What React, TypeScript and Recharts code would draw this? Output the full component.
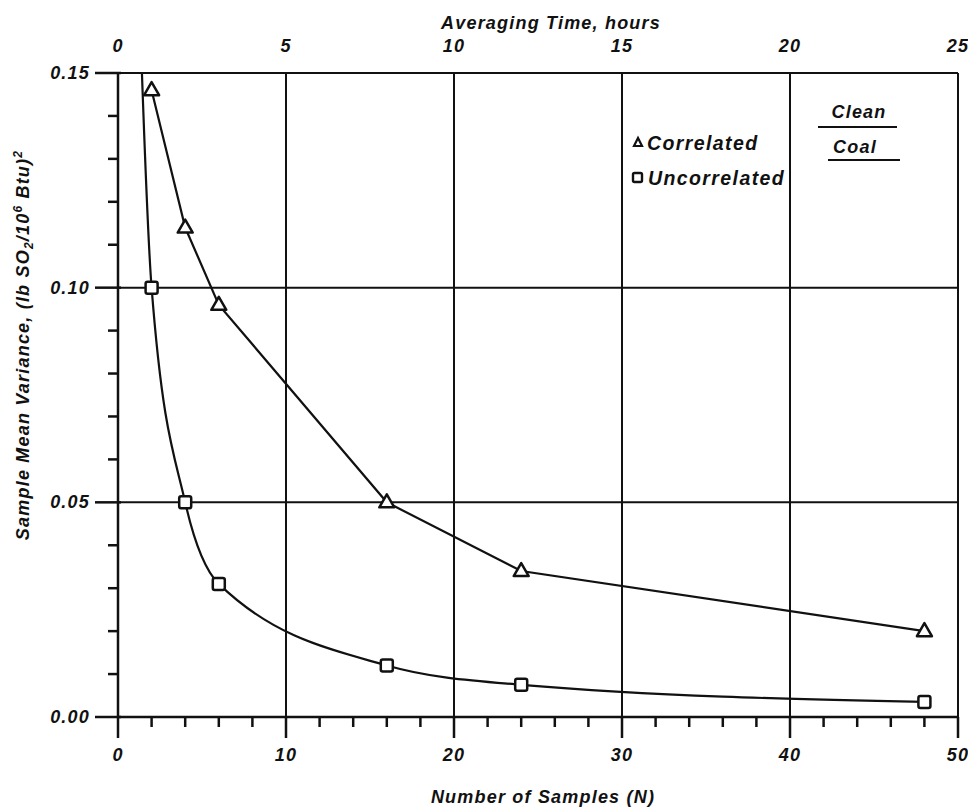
import React from "react";
import { LineChart, Line, XAxis, YAxis, ReferenceLine, Legend } from "recharts";

const INK = "#111";
const FONT = '"Liberation Sans", Arial, Helvetica, sans-serif';

// values
const SAMPLES_CORRELATED = [2, 4, 6, 16, 24, 48];
const VARIANCE_CORRELATED = [0.146, 0.114, 0.096, 0.05, 0.034, 0.02];
// first point (N = 1) lies above the frame, the curve leaves through the top
const SAMPLES_UNCORRELATED = [1, 2, 4, 6, 16, 24, 48];
const VARIANCE_UNCORRELATED = [0.2, 0.1, 0.05, 0.031, 0.012, 0.0075, 0.0035];

const N_TICKS = [0, 2, 4, 6, 8, 10, 12, 14, 16, 18, 20, 22, 24, 26, 28, 30, 32, 34, 36, 38, 40, 42, 44, 46, 48, 50];
const HOUR_TICKS = [0, 5, 10, 15, 20, 25];
const VARIANCE_TICKS = [0, 0.01, 0.02, 0.03, 0.04, 0.05, 0.06, 0.07, 0.08, 0.09, 0.1, 0.11, 0.12, 0.13, 0.14, 0.15];
const N_GRID = [10, 20, 30, 40, 50];
const VARIANCE_GRID = [0.05, 0.1, 0.15];

const SERIES = [
  { key: "correlated", name: "Correlated", n: SAMPLES_CORRELATED, v: VARIANCE_CORRELATED, marker: "triangle", curve: "linear" },
  { key: "uncorrelated", name: "Uncorrelated", n: SAMPLES_UNCORRELATED, v: VARIANCE_UNCORRELATED, marker: "square", curve: "monotone" },
];

const TEXT: React.CSSProperties = {
  fontFamily: FONT,
  fontWeight: 700,
  fontStyle: "italic",
  fontSize: 18,
  letterSpacing: 1.2,
  fill: INK,
};
const LEGEND_TEXT: React.CSSProperties = { ...TEXT, fontSize: 19.5, letterSpacing: 1.4 };

function BottomTick({ x, y, payload }: any) {
  const major = payload.value % 10 === 0;
  return (
    <g>
      <line x1={x} x2={x} y1={y} y2={y + (major ? 21 : 10)} stroke={INK} strokeWidth={2.5} />
      {major && (
        <text x={x} y={y + 44} textAnchor="middle" style={TEXT}>
          {payload.value}
        </text>
      )}
    </g>
  );
}

function TopTick({ x, y, payload }: any) {
  return (
    <text x={x} y={y - 21} textAnchor="middle" style={TEXT}>
      {payload.value}
    </text>
  );
}

function LeftTick({ x, y, payload }: any) {
  const major = Math.round(payload.value * 100) % 5 === 0;
  return (
    <g>
      <line x1={x - (major ? 23 : 10)} x2={x + (major ? 3 : 0)} y1={y} y2={y} stroke={INK} strokeWidth={2.5} />
      {major && (
        <text x={x - 28} y={y + 6} textAnchor="end" style={TEXT}>
          {payload.value.toFixed(2)}
        </text>
      )}
    </g>
  );
}

function triangleDot(p: any) {
  const { cx, cy, value, index } = p;
  if (value == null || value > 0.15) return <g key={index} />;
  return (
    <polygon
      key={index}
      points={`${cx},${cy - 8} ${cx - 7.5},${cy + 5} ${cx + 7.5},${cy + 5}`}
      fill="#fff"
      stroke={INK}
      strokeWidth={2.5}
      strokeLinejoin="round"
    />
  );
}

function squareDot(p: any) {
  const { cx, cy, value, index } = p;
  if (value == null || value > 0.15) return <g key={index} />;
  return (
    <rect key={index} x={cx - 6} y={cy - 6} width={12} height={12} rx={2} fill="#fff" stroke={INK} strokeWidth={2.5} />
  );
}

function LegendBox() {
  return (
    <svg width={330} height={110} style={{ display: "block" }}>
      <polygon points="38,43 34,51 42,51" fill="none" stroke={INK} strokeWidth={2.2} />
      <text x={47} y={55} style={LEGEND_TEXT}>
        {SERIES[0].name}
      </text>
      <rect x={33} y={78} width={9} height={9} rx={1.5} fill="none" stroke={INK} strokeWidth={2.4} />
      <text x={48} y={90} style={LEGEND_TEXT}>
        {SERIES[1].name}
      </text>
      <text x={259} y={23} textAnchor="middle" style={TEXT}>
        Clean
      </text>
      <line x1={218} x2={297} y1={32} y2={32} stroke={INK} strokeWidth={2} />
      <text x={255} y={58} textAnchor="middle" style={TEXT}>
        Coal
      </text>
      <line x1={228} x2={300} y1={65} y2={65} stroke={INK} strokeWidth={2} />
    </svg>
  );
}

export default function App() {
  const rows = SERIES.map((s) => s.n.map((n, i) => ({ n, v: s.v[i] })));
  // anchors the hours axis so it gets a scale; carries no values
  const hourRows = HOUR_TICKS.map((h) => ({ h }));

  return (
    <div style={{ position: "absolute", left: 0, top: 0, width: 968, height: 811, background: "#fff" }}>
      <LineChart width={968} height={811} margin={{ top: 0, right: 10, bottom: 0, left: 0 }}>
        <XAxis
          dataKey="n"
          type="number"
          domain={[0, 50]}
          ticks={N_TICKS}
          interval={0}
          height={94}
          tickSize={0}
          tickMargin={0}
          tickLine={false}
          tick={BottomTick}
          axisLine={{ stroke: INK, strokeWidth: 2.5 }}
          allowDuplicatedCategory={false}
          label={{
            content: ({ viewBox }: any) => (
              <text x={viewBox.x + viewBox.width / 2 + 5} y={viewBox.y + 86} textAnchor="middle" style={TEXT}>
                Number of Samples (N)
              </text>
            ),
          }}
        />
        <XAxis
          xAxisId="top"
          dataKey="h"
          orientation="top"
          type="number"
          domain={[0, 25]}
          ticks={HOUR_TICKS}
          interval={0}
          height={73}
          tickSize={0}
          tickMargin={0}
          tickLine={false}
          axisLine={false}
          tick={TopTick}
          label={{
            content: ({ viewBox }: any) => (
              <text x={viewBox.x + viewBox.width / 2 + 13} y={29} textAnchor="middle" style={TEXT}>
                Averaging Time, hours
              </text>
            ),
          }}
        />
        <YAxis
          type="number"
          domain={[0, 0.15]}
          allowDataOverflow
          ticks={VARIANCE_TICKS}
          interval={0}
          width={118}
          tickSize={0}
          tickMargin={0}
          tickLine={false}
          tick={LeftTick}
          axisLine={{ stroke: INK, strokeWidth: 2.5 }}
          label={{
            content: ({ viewBox }: any) => {
              const cx = 29;
              const cy = viewBox.y + viewBox.height / 2 - 50;
              return (
                <text x={cx} y={cy} transform={`rotate(-90 ${cx} ${cy})`} textAnchor="middle" style={TEXT}>
                  Sample Mean Variance, (lb SO
                  <tspan fontSize={12} dy={4}>2</tspan>
                  <tspan dy={-4}>/10</tspan>
                  <tspan fontSize={12} dy={-7}>6</tspan>
                  <tspan dy={7}> Btu)</tspan>
                  <tspan fontSize={12} dy={-7}>2</tspan>
                </text>
              );
            },
          }}
        />
        {N_GRID.map((n) => (
          <ReferenceLine key={`gx${n}`} x={n} stroke={INK} strokeWidth={2} />
        ))}
        {VARIANCE_GRID.map((v) => (
          <ReferenceLine key={`gy${v}`} y={v} stroke={INK} strokeWidth={2} />
        ))}
        <Line
          xAxisId="top"
          data={hourRows}
          dataKey="v"
          stroke="none"
          dot={false}
          activeDot={false}
          legendType="none"
          isAnimationActive={false}
        />
        {SERIES.map((s, i) => (
          <Line
            key={s.key}
            data={rows[i]}
            dataKey="v"
            name={s.name}
            type={s.curve as any}
            stroke={INK}
            strokeWidth={2.2}
            dot={s.marker === "triangle" ? triangleDot : squareDot}
            activeDot={false}
            isAnimationActive={false}
          />
        ))}
        <Legend
          layout="vertical"
          align="center"
          verticalAlign="middle"
          content={LegendBox}
          wrapperStyle={{ left: 600, top: 95, width: 330, height: 110 }}
        />
      </LineChart>
    </div>
  );
}
